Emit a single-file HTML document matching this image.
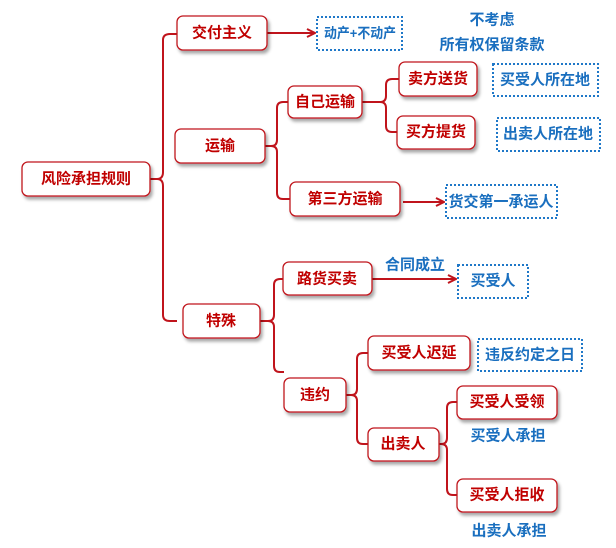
<!DOCTYPE html>
<html><head><meta charset="utf-8"><style>
body{margin:0;background:#fff;}
svg{display:block;}
.n rect{fill:#fff;stroke:#c0141c;stroke-width:1.3;filter:url(#sh);}
.n text{fill:#c00000;font-family:"Liberation Sans","Noto Sans CJK SC",sans-serif;font-weight:bold;font-size:15px;text-anchor:middle;dominant-baseline:central;}
.d rect{fill:#fff;stroke:#1f78c8;stroke-width:2;stroke-dasharray:2 2;}
.d text,.t{fill:#1a6fbf;font-family:"Liberation Sans","Noto Sans CJK SC",sans-serif;font-weight:bold;font-size:15px;text-anchor:middle;dominant-baseline:central;}
.l{fill:none;stroke:#c0141c;stroke-width:2;}
</style></head><body>
<svg width="616" height="548" viewBox="0 0 616 548">
<defs>
<filter id="sh" x="-10%" y="-10%" width="130%" height="140%"><feDropShadow dx="2" dy="3" stdDeviation="1.5" flood-color="#000" flood-opacity="0.35"/></filter>
<marker id="ar" markerWidth="10" markerHeight="10" refX="9" refY="5" orient="auto" markerUnits="userSpaceOnUse"><path d="M1,1 L9,5 L1,9" fill="none" stroke="#c0141c" stroke-width="2"/></marker>
</defs>
<path class="l" d="M150,179 H157 Q163,179 163,172 V40 Q163,34 170,34 H177"/>
<path class="l" d="M157,179 Q163,179 163,186 V315 Q163,321 170,321 H177"/>
<path class="l" d="M265,146 H271 Q277,146 277,140 V108 Q277,102 283,102 H288"/>
<path class="l" d="M271,146 Q277,146 277,152 V193 Q277,199 283,199 H290"/>
<path class="l" d="M362,102 H380 Q386,102 386,96 V85 Q386,79 392,79 H399"/>
<path class="l" d="M380,102 Q386,102 386,108 V126 Q386,132 392,132 H397"/>
<path class="l" d="M260,321 H268 Q274,321 274,315 V285 Q274,279 280,279 H283"/>
<path class="l" d="M268,321 Q274,321 274,327 V366 Q274,372 280,372 H284"/>
<path class="l" d="M346,395 H351 Q357,395 357,389 V359 Q357,353 363,353 H368"/>
<path class="l" d="M351,395 Q357,395 357,401 V438 Q357,444 363,444 H368"/>
<path class="l" d="M439,444 H441 Q447,444 447,438 V408 Q447,402 453,402 H457"/>
<path class="l" d="M441,444 Q447,444 447,450 V489 Q447,495 453,495 H457"/>
<path class="l" d="M267,33 H315" marker-end="url(#ar)"/>
<path class="l" d="M403,202 H444" marker-end="url(#ar)"/>
<path class="l" d="M372,279 H456" marker-end="url(#ar)"/>
<g class="n"><rect x="22" y="162" width="128" height="34" rx="6"/><text x="86" y="179">风险承担规则</text></g>
<g class="n"><rect x="177" y="16" width="90" height="34" rx="6"/><text x="222" y="33">交付主义</text></g>
<g class="n"><rect x="175" y="129" width="90" height="34" rx="6"/><text x="220" y="146">运输</text></g>
<g class="n"><rect x="288" y="86" width="74" height="32" rx="6"/><text x="325" y="102">自己运输</text></g>
<g class="n"><rect x="399" y="62" width="78" height="34" rx="6"/><text x="438" y="79">卖方送货</text></g>
<g class="n"><rect x="397" y="116" width="78" height="33" rx="6"/><text x="436" y="132">买方提货</text></g>
<g class="n"><rect x="290" y="182" width="110" height="34" rx="6"/><text x="345" y="199">第三方运输</text></g>
<g class="n"><rect x="183" y="304" width="77" height="34" rx="6"/><text x="221" y="321">特殊</text></g>
<g class="n"><rect x="283" y="262" width="89" height="33" rx="6"/><text x="327" y="279">路货买卖</text></g>
<g class="n"><rect x="284" y="378" width="62" height="34" rx="6"/><text x="315" y="395">违约</text></g>
<g class="n"><rect x="368" y="336" width="102" height="34" rx="6"/><text x="419" y="353">买受人迟延</text></g>
<g class="n"><rect x="368" y="428" width="71" height="33" rx="6"/><text x="403" y="444">出卖人</text></g>
<g class="n"><rect x="457" y="386" width="100" height="33" rx="6"/><text x="507" y="402">买受人受领</text></g>
<g class="n"><rect x="457" y="479" width="100" height="33" rx="6"/><text x="507" y="495">买受人拒收</text></g>
<g class="d"><rect x="317" y="17" width="85" height="33"/><text x="360" y="33" style="font-size:14px" textLength="72" lengthAdjust="spacingAndGlyphs">动产+不动产</text></g>
<g class="d"><rect x="493" y="64" width="105" height="32"/><text x="545" y="80">买受人所在地</text></g>
<g class="d"><rect x="497" y="118" width="103" height="33"/><text x="548" y="134">出卖人所在地</text></g>
<g class="d"><rect x="446" y="185" width="111" height="33"/><text x="501" y="202">货交第一承运人</text></g>
<g class="d"><rect x="458" y="265" width="70" height="33"/><text x="493" y="281">买受人</text></g>
<g class="d"><rect x="478" y="339" width="104" height="32"/><text x="530" y="355">违反约定之日</text></g>
<text class="t" x="492" y="20">不考虑</text>
<text class="t" x="492" y="45">所有权保留条款</text>
<text class="t" x="415" y="265">合同成立</text>
<text class="t" x="508" y="436">买受人承担</text>
<text class="t" x="509" y="531">出卖人承担</text>
</svg>
</body></html>
